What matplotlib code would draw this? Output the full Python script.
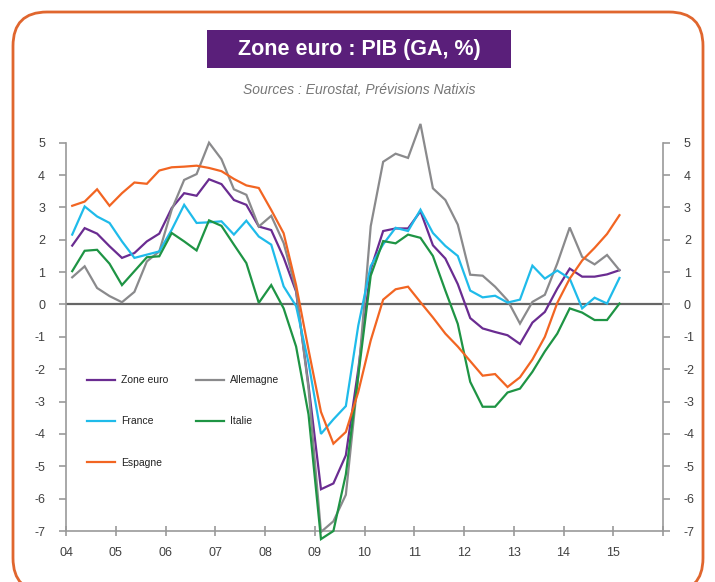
import matplotlib
matplotlib.use("Agg")
import matplotlib.pyplot as plt
from matplotlib.patches import FancyBboxPatch, Rectangle
from matplotlib.transforms import IdentityTransform
import numpy as np

plt.rcParams['font.family'] = ['Liberation Sans', 'DejaVu Sans']

# Quarterly data, 2004Q1 .. 2015Q1
start_year = 2004
n_quarters = 45

zone_euro = [1.82, 2.36, 2.19, 1.80, 1.44, 1.59, 1.95, 2.19, 2.98, 3.44, 3.36, 3.87,
             3.72, 3.23, 3.08, 2.41, 2.30, 1.45, 0.40, -2.50, -5.71, -5.53, -4.66, -2.00,
             1.09, 2.27, 2.35, 2.35, 2.88, 1.83, 1.42, 0.63, -0.42, -0.74, -0.85, -0.95,
             -1.22, -0.56, -0.23, 0.49, 1.11, 0.86, 0.86, 0.93, 1.06]
allemagne = [0.84, 1.18, 0.51, 0.26, 0.07, 0.39, 1.33, 1.64, 2.93, 3.85, 4.03, 5.00,
             4.49, 3.56, 3.39, 2.41, 2.74, 1.90, 0.45, -2.60, -7.03, -6.70, -5.88, -2.20,
             2.42, 4.41, 4.66, 4.53, 5.58, 3.59, 3.23, 2.47, 0.92, 0.89, 0.55, 0.13,
             -0.59, 0.08, 0.30, 1.27, 2.38, 1.47, 1.24, 1.53, 1.06]
france = [2.16, 3.03, 2.72, 2.52, 1.95, 1.44, 1.54, 1.64, 2.31, 3.08, 2.52, 2.54,
          2.57, 2.16, 2.59, 2.10, 1.85, 0.56, -0.05, -1.80, -4.00, -3.55, -3.14, -0.65,
          1.19, 1.86, 2.37, 2.27, 2.93, 2.21, 1.81, 1.50, 0.43, 0.22, 0.27, 0.06,
          0.15, 1.20, 0.80, 1.05, 0.80, -0.12, 0.21, 0.03, 0.82]
italie = [1.03, 1.66, 1.69, 1.26, 0.60, 1.03, 1.46, 1.49, 2.21, 1.95, 1.67, 2.60,
          2.43, 1.85, 1.28, 0.05, 0.60, -0.12, -1.30, -3.40, -7.25, -7.00, -5.25, -2.20,
          0.89, 1.96, 1.89, 2.16, 2.06, 1.50, 0.43, -0.60, -2.39, -3.16, -3.16, -2.72,
          -2.60, -2.08, -1.45, -0.90, -0.12, -0.25, -0.48, -0.48, 0.03]
espagne = [3.05, 3.18, 3.56, 3.05, 3.44, 3.77, 3.73, 4.14, 4.24, 4.26, 4.29, 4.22,
           4.12, 3.88, 3.68, 3.60, 2.92, 2.20, 0.60, -1.40, -3.32, -4.30, -3.94, -2.70,
           -1.11, 0.15, 0.47, 0.55, 0.07, -0.40, -0.90, -1.30, -1.75, -2.20, -2.15, -2.55,
           -2.25, -1.70, -1.00, 0.05, 0.80, 1.36, 1.75, 2.18, 2.76]

year_labels = ['04', '05', '06', '07', '08', '09', '10', '11', '12', '13', '14', '15']
y_ticks = [-7, -6, -5, -4, -3, -2, -1, 0, 1, 2, 3, 4, 5]

series_names = ['Zone euro', 'Allemagne', 'France', 'Italie', 'Espagne']
colors = {'Zone euro': '#6A2C91', 'Allemagne': '#8A8A8C', 'France': '#1FBBEA',
          'Italie': '#1E9444', 'Espagne': '#F26522'}
data = {'Zone euro': zone_euro, 'Allemagne': allemagne, 'France': france,
        'Italie': italie, 'Espagne': espagne}

x = start_year + (np.arange(n_quarters) + 0.5) / 4.0

W, H = 715, 582
fig = plt.figure(figsize=(W / 100, H / 100), dpi=100)
fig.patch.set_facecolor('white')

# rounded orange frame
frame = FancyBboxPatch((13, -10), 690, 580, boxstyle="round,pad=0,rounding_size=34",
                       transform=IdentityTransform(), facecolor='none',
                       edgecolor='#E0662E', linewidth=2.0, zorder=0)
fig.patches.append(frame)

# title box
title_box = Rectangle((207, H - 68), 304, 38, transform=IdentityTransform(),
                      facecolor='#5A1F7A', edgecolor='none', zorder=1)
fig.patches.append(title_box)
fig.text(359 / W, 1 - 49 / H, 'Zone euro : PIB (GA, %)', color='white',
         fontsize=15.5, fontweight='bold', ha='center', va='center')
fig.text(359 / W, 1 - 90 / H, 'Sources : Eurostat, Prévisions Natixis', color='#777777',
         fontsize=10, style='italic', ha='center', va='center')

left, right = 66, 663
bottom, top = 531, 142.7
ax = fig.add_axes([left / W, 1 - bottom / H, (right - left) / W, (bottom - top) / H])
ax.set_facecolor('none')

order = ['Zone euro', 'France', 'Espagne', 'Allemagne', 'Italie']
handles = {}
for name in series_names:
    ln, = ax.plot(x, data[name], color=colors[name], lw=1.6, solid_joinstyle='miter',
                  label=name, zorder=3, clip_on=False)
    handles[name] = ln

ax.axhline(0, color='#666666', lw=1.6, zorder=2)

ax.set_xlim(2004, 2016)
ax.set_ylim(-7, 5)
ax.set_xticks(np.arange(2004, 2017))
ax.set_xticklabels(year_labels + [''])
ax.set_yticks(y_ticks)
ax.set_yticklabels([str(v) for v in y_ticks])

spine_col = '#999999'
ax.spines['top'].set_visible(False)
for s in ['left', 'right', 'bottom']:
    ax.spines[s].set_color(spine_col)
    ax.spines[s].set_linewidth(1.2)

ax.tick_params(axis='y', which='both', left=True, right=True, labelleft=True,
               labelright=True, direction='out', length=5, width=1.2, color=spine_col,
               labelsize=9, labelcolor='#404040', pad=10)
ax.tick_params(axis='x', direction='inout', length=7, width=1.2, color=spine_col,
               labelsize=9, labelcolor='#404040', pad=8)

leg = ax.legend([handles[n] for n in order], order, ncol=2, loc='upper left',
                bbox_to_anchor=(0.028, 0.412), frameon=False, fontsize=7.5,
                handlelength=2.7, handletextpad=0.6, labelspacing=3.0,
                columnspacing=2.6, borderaxespad=0)
for t in leg.get_texts():
    t.set_color('#222222')

fig.savefig('out.png', dpi=100, facecolor='white')
